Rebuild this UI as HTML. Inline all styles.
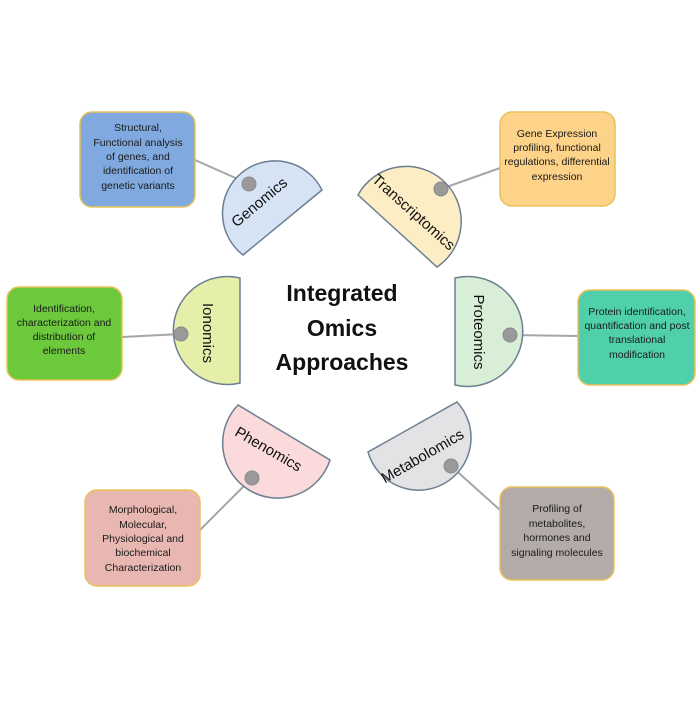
<!DOCTYPE html>
<html><head><meta charset="utf-8"><style>
html,body{margin:0;padding:0;background:#fff;}
svg text{font-family:"Liberation Sans",sans-serif;}
</style></head><body>
<svg width="700" height="700" viewBox="0 0 700 700" xmlns="http://www.w3.org/2000/svg">
<g stroke="#a6a6a6" stroke-width="2">
<line x1="195" y1="160" x2="249" y2="184"/>
<line x1="500" y1="168" x2="441" y2="189"/>
<line x1="122" y1="337" x2="181" y2="334"/>
<line x1="578" y1="336" x2="510" y2="335"/>
<line x1="200" y1="530" x2="252" y2="478"/>
<line x1="500" y1="510" x2="451" y2="466"/>
</g>
<g stroke="#e8c25a" stroke-width="1.5">
<rect x="80" y="112" width="115" height="95" rx="12" fill="#7fa9df"/>
<rect x="500" y="112" width="115" height="94" rx="12" fill="#fdd38a"/>
<rect x="7" y="287" width="115" height="93" rx="12" fill="#6cc93c"/>
<rect x="578" y="290" width="117" height="95" rx="12" fill="#4fd0aa"/>
<rect x="85" y="490" width="115" height="96" rx="12" fill="#e8b7b2"/>
<rect x="500" y="487" width="114" height="93" rx="12" fill="#b3aba8"/>
</g>
<g stroke="#6c7f92" stroke-width="1.5">
<path d="M322 190 A52.5 52.5 0 1 0 243 255 Z" fill="#d5e3f5"/>
<path d="M437 267 A55 55 0 1 0 358 195 Z" fill="#fdedc4"/>
<path d="M240 278 A54 54 0 1 0 240 383 Z" fill="#e6efaa"/>
<path d="M455 385 A55 55 0 1 0 455 278 Z" fill="#d9eed6"/>
<path d="M368 452 A52.5 52.5 0 1 0 457 402 Z" fill="#e3e3e5"/>
<path d="M238 405 A55 55 0 1 0 330 460 Z" fill="#fadadb"/>
</g>
<g fill="#9a9a9a" stroke="#888" stroke-width="1">
<circle cx="249" cy="184" r="7"/><circle cx="441" cy="189" r="7"/>
<circle cx="181" cy="334" r="7"/><circle cx="510" cy="335" r="7"/>
<circle cx="252" cy="478" r="7"/><circle cx="451" cy="466" r="7"/>
</g>
<g font-size="15" fill="#111" text-anchor="middle" dominant-baseline="middle">
<text transform="translate(260,203) rotate(-40)">Genomics</text>
<text transform="translate(413,213) rotate(42)">Transcriptomics</text>
<text transform="translate(207,333) rotate(90)">Ionomics</text>
<text transform="translate(478,332) rotate(90)">Proteomics</text>
<text transform="translate(268,450) rotate(30)">Phenomics</text>
<text transform="translate(423,457) rotate(-30)">Metabolomics</text>
</g>
<g font-size="23" font-weight="bold" fill="#111" text-anchor="middle">
<text x="342" y="301">Integrated</text>
<text x="342" y="336">Omics</text>
<text x="342" y="370">Approaches</text>
</g>
<g font-size="10.5" fill="#1a1a1a" text-anchor="middle">
<text x="138" y="131">Structural,</text>
<text x="138" y="146">Functional analysis</text>
<text x="138" y="160">of genes, and</text>
<text x="138" y="174">identification of</text>
<text x="138" y="189">genetic variants</text>
<text x="557" y="137">Gene Expression</text>
<text x="557" y="151">profiling, functional</text>
<text x="557" y="165">regulations, differential</text>
<text x="557" y="180">expression</text>
<text x="64" y="312">Identification,</text>
<text x="64" y="326">characterization and</text>
<text x="64" y="340">distribution of</text>
<text x="64" y="354">elements</text>
<text x="637" y="315">Protein identification,</text>
<text x="637" y="329">quantification and post</text>
<text x="637" y="343">translational</text>
<text x="637" y="358">modification</text>
<text x="143" y="513">Morphological,</text>
<text x="143" y="528">Molecular,</text>
<text x="143" y="542">Physiological and</text>
<text x="143" y="556">biochemical</text>
<text x="143" y="571">Characterization</text>
<text x="557" y="512">Profiling of</text>
<text x="557" y="527">metabolites,</text>
<text x="557" y="541">hormones and</text>
<text x="557" y="556">signaling molecules</text>
</g>
</svg>
</body></html>
